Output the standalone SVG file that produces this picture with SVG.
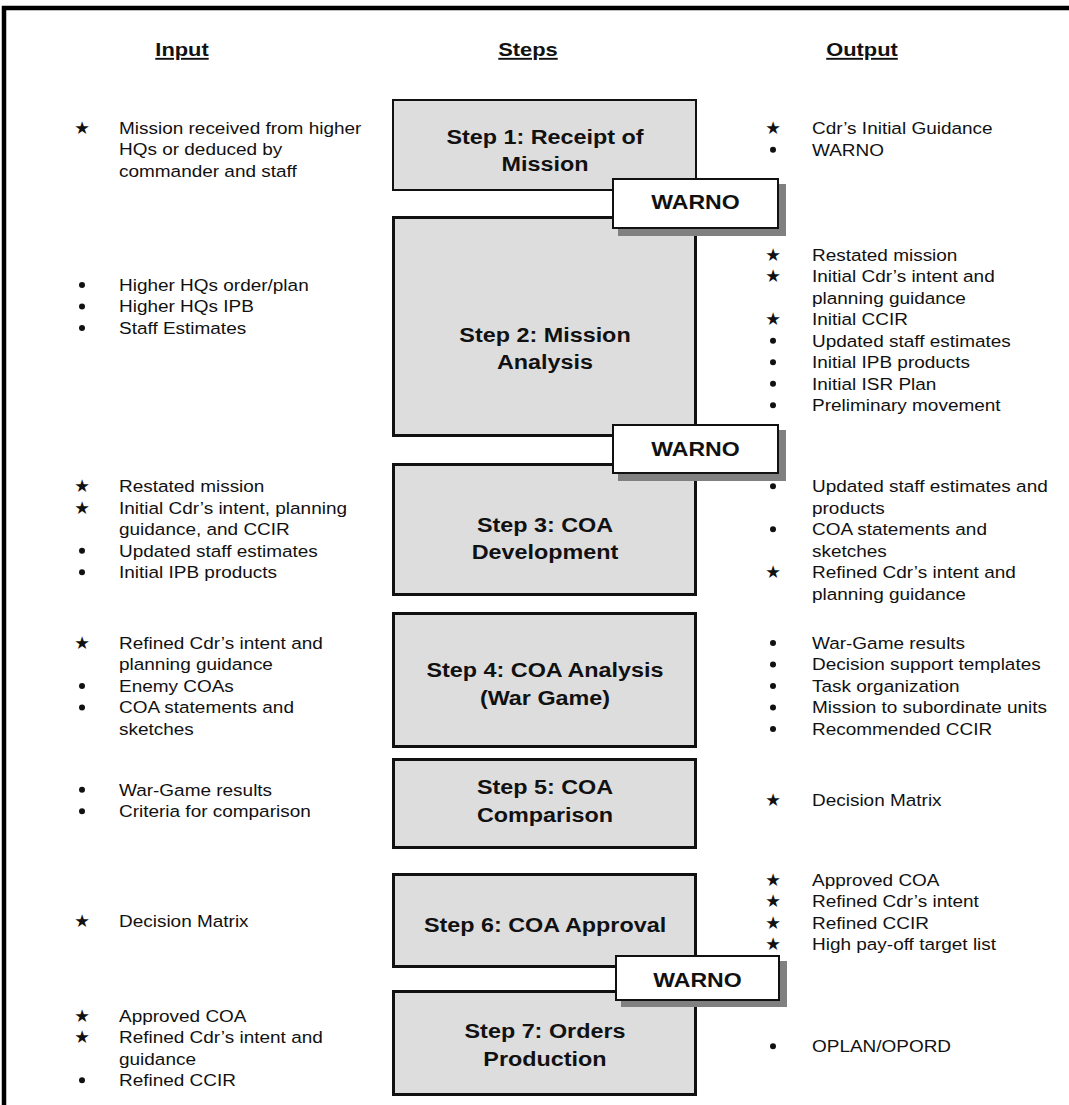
<svg xmlns="http://www.w3.org/2000/svg" width="1069" height="1105" viewBox="0 0 1069 1105">
<style>
.t{font-family:"Liberation Sans",Arial,sans-serif;font-size:16.5px;fill:#111}
.h{font-family:"Liberation Sans",Arial,sans-serif;font-size:19px;font-weight:bold;fill:#111;text-decoration:underline;text-anchor:middle}
.st{font-family:"Liberation Sans",Arial,sans-serif;font-size:20.5px;font-weight:bold;fill:#111;text-anchor:middle}
.w{font-family:"Liberation Sans",Arial,sans-serif;font-size:21px;font-weight:bold;fill:#111;text-anchor:middle}
.star{font-family:"DejaVu Sans",sans-serif;font-size:17.5px;fill:#111;text-anchor:middle}
.dot{fill:#111}
.box{fill:#dddddd;stroke:#111;stroke-width:3}
.wbox{fill:#ffffff;stroke:#111;stroke-width:2}
.shadow{fill:#808080}
</style>
<rect width="1069" height="1105" fill="#ffffff"/>
<path d="M4,1105 V8 H1069" fill="none" stroke="#000" stroke-width="4.5"/>

<g id="headers">
<text class="h" transform="translate(182,56) scale(1.15,1)">Input</text>
<text class="h" transform="translate(528,56) scale(1.15,1)">Steps</text>
<text class="h" transform="translate(862,56) scale(1.15,1)">Output</text>
</g>

<g id="step1"><rect class="box" x="393" y="100" width="303" height="90" style="stroke-width:2"/>
<text class="st" transform="translate(545,144) scale(1.14,1)"><tspan x="0" y="0">Step 1: Receipt of</tspan><tspan x="0" y="27.5">Mission</tspan></text></g>
<g id="step2"><rect class="box" x="393.5" y="217.5" width="302" height="218"/>
<text class="st" transform="translate(545,342) scale(1.14,1)"><tspan x="0" y="0">Step 2: Mission</tspan><tspan x="0" y="27.5">Analysis</tspan></text></g>
<g id="step3"><rect class="box" x="393.5" y="464.5" width="302" height="130"/>
<text class="st" transform="translate(545,531.7) scale(1.14,1)"><tspan x="0" y="0">Step 3: COA</tspan><tspan x="0" y="27.5">Development</tspan></text></g>
<g id="step4"><rect class="box" x="393.5" y="613.5" width="302" height="133"/>
<text class="st" transform="translate(545,677.3) scale(1.14,1)"><tspan x="0" y="0">Step 4: COA Analysis</tspan><tspan x="0" y="27.5">(War Game)</tspan></text></g>
<g id="step5"><rect class="box" x="393.5" y="759.5" width="302" height="88"/>
<text class="st" transform="translate(545,794.3) scale(1.14,1)"><tspan x="0" y="0">Step 5: COA</tspan><tspan x="0" y="27.5">Comparison</tspan></text></g>
<g id="step6"><rect class="box" x="393.5" y="874.5" width="302" height="92"/>
<text class="st" transform="translate(545,931.7) scale(1.14,1)">Step 6: COA Approval</text></g>
<g id="step7"><rect class="box" x="393.5" y="991.5" width="302" height="103"/>
<text class="st" transform="translate(545,1038.3) scale(1.14,1)"><tspan x="0" y="0">Step 7: Orders</tspan><tspan x="0" y="27.5">Production</tspan></text></g>

<g id="warno1"><rect class="shadow" x="618" y="184" width="168" height="52"/><rect class="wbox" x="613" y="179" width="165" height="49"/>
<text class="w" transform="translate(695.5,209) scale(1.1,1)">WARNO</text></g>
<g id="warno2"><rect class="shadow" x="618" y="430" width="168" height="51"/><rect class="wbox" x="613" y="425" width="165" height="48"/>
<text class="w" transform="translate(695.5,456) scale(1.1,1)">WARNO</text></g>
<g id="warno3"><rect class="shadow" x="621" y="961" width="166" height="46"/><rect class="wbox" x="616" y="956" width="163" height="44"/>
<text class="w" transform="translate(697.5,986.7) scale(1.1,1)">WARNO</text></g>

<g id="inputs">
<text class="star" x="82" y="134">★</text>
<text class="t" transform="translate(119,134) scale(1.15,1)"><tspan x="0" y="0">Mission received from higher</tspan><tspan x="0" y="21.5">HQs or deduced by</tspan><tspan x="0" y="43">commander and staff</tspan></text>

<circle class="dot" cx="82" cy="285" r="3"/><circle class="dot" cx="82" cy="306.5" r="3"/><circle class="dot" cx="82" cy="328" r="3"/>
<text class="t" transform="translate(119,291) scale(1.15,1)"><tspan x="0" y="0">Higher HQs order/plan</tspan><tspan x="0" y="21.5">Higher HQs IPB</tspan><tspan x="0" y="43">Staff Estimates</tspan></text>

<text class="star" x="82" y="492.3">★</text><text class="star" x="82" y="513.8">★</text><circle class="dot" cx="82" cy="550.8" r="3"/><circle class="dot" cx="82" cy="572.3" r="3"/>
<text class="t" transform="translate(119,492.3) scale(1.15,1)"><tspan x="0" y="0">Restated mission</tspan><tspan x="0" y="21.5">Initial Cdr’s intent, planning</tspan><tspan x="0" y="43">guidance, and CCIR</tspan><tspan x="0" y="64.5">Updated staff estimates</tspan><tspan x="0" y="86">Initial IPB products</tspan></text>

<text class="star" x="82" y="649">★</text><circle class="dot" cx="82" cy="686" r="3"/><circle class="dot" cx="82" cy="707.5" r="3"/>
<text class="t" transform="translate(119,649) scale(1.15,1)"><tspan x="0" y="0">Refined Cdr’s intent and</tspan><tspan x="0" y="21.5">planning guidance</tspan><tspan x="0" y="43">Enemy COAs</tspan><tspan x="0" y="64.5">COA statements and</tspan><tspan x="0" y="86">sketches</tspan></text>

<circle class="dot" cx="82" cy="789.7" r="3"/><circle class="dot" cx="82" cy="811.2" r="3"/>
<text class="t" transform="translate(119,795.7) scale(1.15,1)"><tspan x="0" y="0">War-Game results</tspan><tspan x="0" y="21.5">Criteria for comparison</tspan></text>

<text class="star" x="82" y="927.3">★</text>
<text class="t" transform="translate(119,927.3) scale(1.15,1)">Decision Matrix</text>

<text class="star" x="82" y="1021.7">★</text><text class="star" x="82" y="1043.2">★</text><circle class="dot" cx="82" cy="1080.2" r="3"/>
<text class="t" transform="translate(119,1021.7) scale(1.15,1)"><tspan x="0" y="0">Approved COA</tspan><tspan x="0" y="21.5">Refined Cdr’s intent and</tspan><tspan x="0" y="43">guidance</tspan><tspan x="0" y="64.5">Refined CCIR</tspan></text>
</g>

<g id="outputs">
<text class="star" x="773" y="134.3">★</text><circle class="dot" cx="773" cy="149.8" r="3"/>
<text class="t" transform="translate(812,134.3) scale(1.15,1)"><tspan x="0" y="0">Cdr’s Initial Guidance</tspan><tspan x="0" y="21.5">WARNO</tspan></text>

<text class="star" x="773" y="260.7">★</text><text class="star" x="773" y="282.2">★</text><text class="star" x="773" y="325.2">★</text>
<circle class="dot" cx="773" cy="340.7" r="3"/><circle class="dot" cx="773" cy="362.2" r="3"/><circle class="dot" cx="773" cy="383.7" r="3"/><circle class="dot" cx="773" cy="405.2" r="3"/>
<text class="t" transform="translate(812,260.7) scale(1.15,1)"><tspan x="0" y="0">Restated mission</tspan><tspan x="0" y="21.5">Initial Cdr’s intent and</tspan><tspan x="0" y="43">planning guidance</tspan><tspan x="0" y="64.5">Initial CCIR</tspan><tspan x="0" y="86">Updated staff estimates</tspan><tspan x="0" y="107.5">Initial IPB products</tspan><tspan x="0" y="129">Initial ISR Plan</tspan><tspan x="0" y="150.5">Preliminary movement</tspan></text>

<circle class="dot" cx="773" cy="486.3" r="3"/><circle class="dot" cx="773" cy="529.3" r="3"/><text class="star" x="773" y="578.3">★</text>
<text class="t" transform="translate(812,492.3) scale(1.15,1)"><tspan x="0" y="0">Updated staff estimates and</tspan><tspan x="0" y="21.5">products</tspan><tspan x="0" y="43">COA statements and</tspan><tspan x="0" y="64.5">sketches</tspan><tspan x="0" y="86">Refined Cdr’s intent and</tspan><tspan x="0" y="107.5">planning guidance</tspan></text>

<circle class="dot" cx="773" cy="643" r="3"/><circle class="dot" cx="773" cy="664.5" r="3"/><circle class="dot" cx="773" cy="686" r="3"/><circle class="dot" cx="773" cy="707.5" r="3"/><circle class="dot" cx="773" cy="729" r="3"/>
<text class="t" transform="translate(812,649) scale(1.15,1)"><tspan x="0" y="0">War-Game results</tspan><tspan x="0" y="21.5">Decision support templates</tspan><tspan x="0" y="43">Task organization</tspan><tspan x="0" y="64.5">Mission to subordinate units</tspan><tspan x="0" y="86">Recommended CCIR</tspan></text>

<text class="star" x="773" y="806">★</text>
<text class="t" transform="translate(812,806) scale(1.15,1)">Decision Matrix</text>

<text class="star" x="773" y="885.7">★</text><text class="star" x="773" y="907.2">★</text><text class="star" x="773" y="928.7">★</text><text class="star" x="773" y="950.2">★</text>
<text class="t" transform="translate(812,885.7) scale(1.15,1)"><tspan x="0" y="0">Approved COA</tspan><tspan x="0" y="21.5">Refined Cdr’s intent</tspan><tspan x="0" y="43">Refined CCIR</tspan><tspan x="0" y="64.5">High pay-off target list</tspan></text>

<circle class="dot" cx="773" cy="1046.3" r="3"/>
<text class="t" transform="translate(812,1052.3) scale(1.15,1)">OPLAN/OPORD</text>
</g>
</svg>
